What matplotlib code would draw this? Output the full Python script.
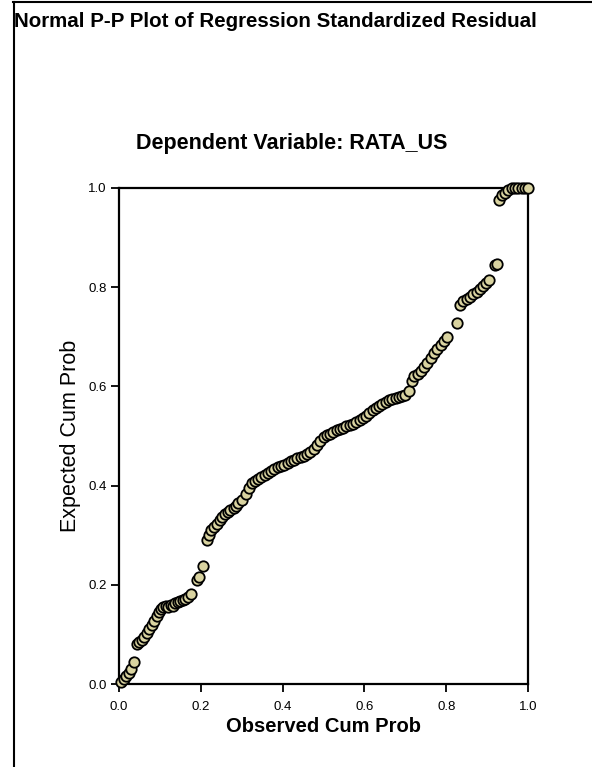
import matplotlib.pyplot as plt
from matplotlib.lines import Line2D

# observed vs expected cumulative probabilities
observed = [
    0.005, 0.012, 0.018, 0.024, 0.03, 0.036, 0.045, 0.05, 0.056, 0.062,
    0.068, 0.074, 0.08, 0.086, 0.092, 0.097, 0.102, 0.108, 0.114, 0.12,
    0.126, 0.132, 0.138, 0.144, 0.15, 0.156, 0.162, 0.168, 0.175, 0.19,
    0.196, 0.205, 0.215, 0.22, 0.226, 0.232, 0.24, 0.246, 0.252, 0.26,
    0.266, 0.272, 0.28, 0.286, 0.292, 0.3, 0.31, 0.318, 0.325, 0.332,
    0.34, 0.348, 0.356, 0.364, 0.372, 0.38, 0.388, 0.396, 0.404, 0.412,
    0.42, 0.428, 0.436, 0.444, 0.452, 0.46, 0.468, 0.476, 0.484, 0.492,
    0.5, 0.508, 0.516, 0.524, 0.532, 0.54, 0.548, 0.556, 0.564, 0.572,
    0.58, 0.588, 0.596, 0.604, 0.612, 0.62, 0.628, 0.636, 0.644, 0.652,
    0.66, 0.668, 0.676, 0.684, 0.692, 0.7, 0.708, 0.716, 0.722, 0.73,
    0.738, 0.746, 0.754, 0.762, 0.77, 0.778, 0.786, 0.794, 0.802, 0.826,
    0.834, 0.842, 0.85, 0.858, 0.866, 0.874, 0.882, 0.89, 0.898, 0.905,
    0.918, 0.924, 0.93, 0.936, 0.944, 0.952, 0.96, 0.968, 0.976, 0.984,
    0.992, 1.0,
]
expected = [
    0.004, 0.01, 0.016, 0.022, 0.03, 0.045, 0.08, 0.085, 0.09, 0.096,
    0.104, 0.112, 0.12, 0.128, 0.138, 0.146, 0.152, 0.155, 0.158, 0.156,
    0.16, 0.158, 0.163, 0.165, 0.167, 0.17, 0.172, 0.176, 0.182, 0.21,
    0.215, 0.238, 0.29, 0.3, 0.31, 0.316, 0.322, 0.33, 0.336, 0.342,
    0.346, 0.35, 0.355, 0.36, 0.366, 0.372, 0.384, 0.396, 0.406, 0.41,
    0.414, 0.418, 0.422, 0.426, 0.43, 0.434, 0.437, 0.44, 0.442, 0.446,
    0.45, 0.452, 0.455, 0.458, 0.46, 0.464, 0.468, 0.474, 0.482, 0.49,
    0.498, 0.502, 0.505, 0.508, 0.512, 0.515, 0.517, 0.52, 0.522, 0.524,
    0.528, 0.532, 0.536, 0.54, 0.546, 0.552, 0.556, 0.56, 0.564, 0.568,
    0.572, 0.574, 0.576, 0.578, 0.58, 0.582, 0.59, 0.61, 0.62, 0.626,
    0.632, 0.64, 0.648, 0.658, 0.668, 0.676, 0.684, 0.692, 0.7, 0.728,
    0.765, 0.772, 0.776, 0.78, 0.786, 0.79, 0.796, 0.802, 0.808, 0.814,
    0.845, 0.846, 0.975, 0.985, 0.99, 0.995, 1.0, 1.0, 1.0, 1.0,
    1.0, 1.0,
]
ticks = [0.0, 0.2, 0.4, 0.6, 0.8, 1.0]

fig = plt.figure(figsize=(5.92, 7.67), dpi=100)
ax = fig.add_axes([0.201, 0.108, 0.691, 0.647])

ax.plot(observed, expected, linestyle="none", marker="o", markersize=7.5,
        markerfacecolor="#d9d3a0", markeredgecolor="black",
        markeredgewidth=1.3, clip_on=False, zorder=3)

ax.set_xlim(0, 1)
ax.set_ylim(0, 1)
ax.set_xticks(ticks)
ax.set_yticks(ticks)
ax.set_xticklabels([f"{t:.1f}" for t in ticks], fontsize=9.5, family="Liberation Sans")
ax.set_yticklabels([f"{t:.1f}" for t in ticks], fontsize=9.5, family="Liberation Sans")
ax.tick_params(axis="x", direction="out", length=6, width=1.3, pad=6)
ax.tick_params(axis="y", direction="out", length=6, width=1.3, pad=3)
for s in ax.spines.values():
    s.set_linewidth(1.6)

ax.set_xlabel("Observed Cum Prob", fontsize=14.5, fontweight="bold",
              family="Liberation Sans", labelpad=3)
ax.set_ylabel("Expected Cum Prob", fontsize=15.5, family="Liberation Sans",
              labelpad=5)

fig.text(0.024, 0.972, "Normal P-P Plot of Regression Standardized Residual",
         fontsize=14.8, fontweight="bold", family="Liberation Sans",
         ha="left", va="center")
fig.text(0.492, 0.813, "Dependent Variable: RATA_US", fontsize=15.5,
         fontweight="bold", family="Liberation Sans", ha="center", va="center")

# report frame lines (top and left edge)
fig.add_artist(Line2D([0.022, 1.0], [0.998, 0.998], color="black", lw=1.5,
                      transform=fig.transFigure))
fig.add_artist(Line2D([0.023, 0.023], [0.0, 0.998], color="black", lw=1.5,
                      transform=fig.transFigure))

fig.savefig("out.png", dpi=100)
